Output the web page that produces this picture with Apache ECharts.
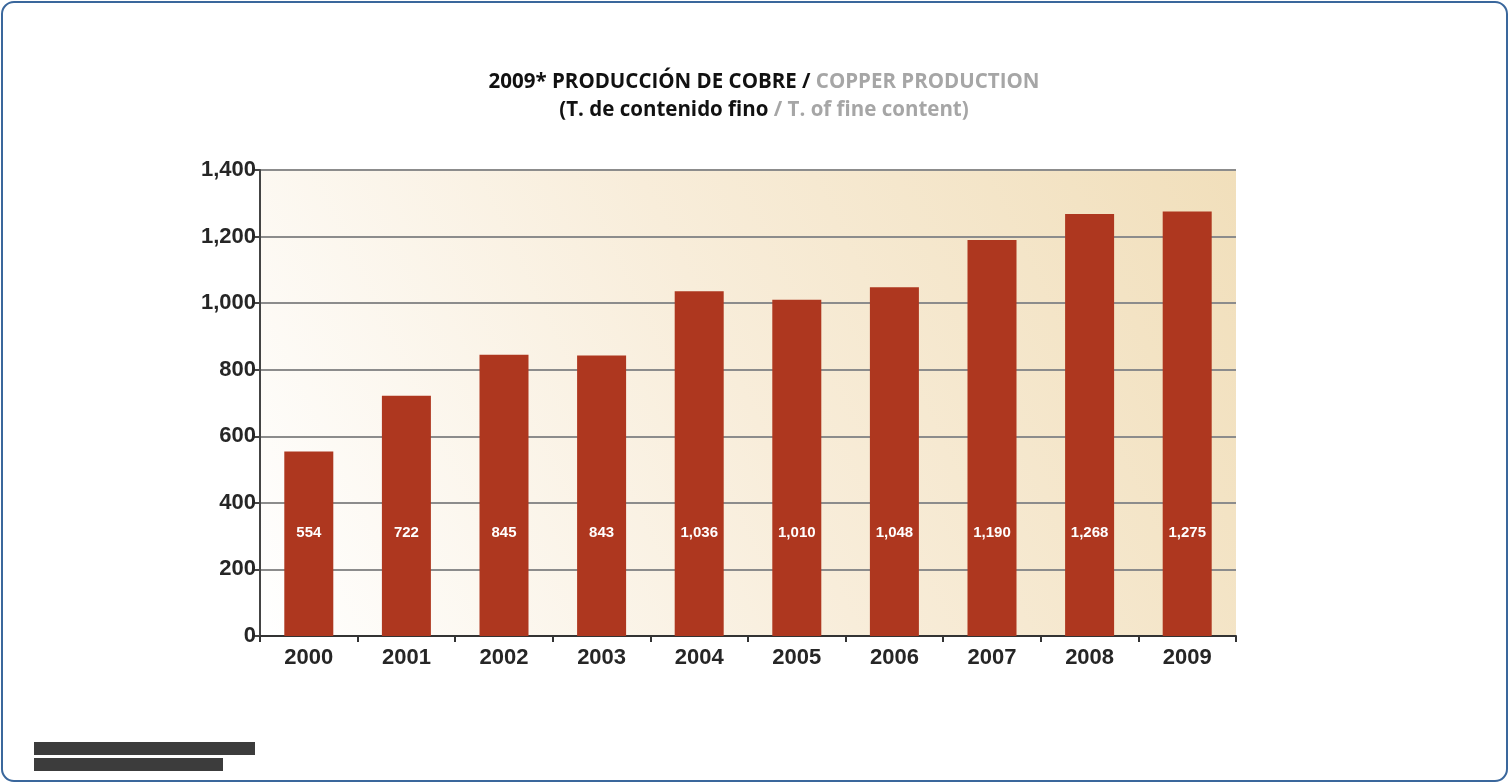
<!DOCTYPE html>
<html>
<head>
<meta charset="utf-8">
<script src="https://cdn.jsdelivr.net/npm/echarts@6/dist/echarts.min.js"></script>
<style>
html, body { margin: 0; padding: 0; background: #fff; }
#main { width: 1510px; height: 783px; }
</style>
</head>
<body>
<div id="main"></div>
<script>
// datos del gráfico
var years = ['2000', '2001', '2002', '2003', '2004', '2005', '2006', '2007', '2008', '2009'];
var produccion = [554, 722, 845, 843, 1036, 1010, 1048, 1190, 1268, 1275];
var yTicks = [0, 200, 400, 600, 800, 1000, 1200, 1400];

function fmt(v) {
	return String(v).replace(/\B(?=(\d{3})+(?!\d))/g, ',');
}

var chart = echarts.init(document.getElementById('main'));
chart.setOption({
	animation: false,
	title: {
		text: '{a|2009* PRODUCCIÓN DE COBRE / }{b|COPPER PRODUCTION}\n{a|(T. de contenido fino }{b|/ T. of fine content)}',
		left: 759,
		top: 63,
		textAlign: 'center',
		textStyle: {
			rich: {
				a: { fontFamily: 'Open Sans', fontWeight: 'bold', fontSize: 20.5, color: '#111', lineHeight: 28 },
				b: { fontFamily: 'Open Sans', fontWeight: 'bold', fontSize: 20.5, color: '#a6a6a6', lineHeight: 28 }
			}
		}
	},
	grid: {
		left: 260, right: 274, top: 170, bottom: 147,
		show: true,
		borderWidth: 0,
		backgroundColor: new echarts.graphic.LinearGradient(0, 1, 1, 0, [
			{ offset: 0, color: '#ffffff' },
			{ offset: 0.5, color: '#f8edda' },
			{ offset: 1, color: '#f1dfbb' }
		])
	},
	xAxis: {
		type: 'category',
		data: years,
		axisLine: { lineStyle: { color: '#333', width: 2 } },
		axisTick: { show: true, length: 6, lineStyle: { color: '#333', width: 2 } },
		axisLabel: {
			fontFamily: 'Liberation Sans', fontWeight: 'bold', fontSize: 22,
			color: '#262626', margin: 11
		}
	},
	yAxis: {
		type: 'value',
		min: 0, max: 1400, interval: 200,
		axisLine: { show: true, lineStyle: { color: '#444', width: 2 } },
		axisTick: { show: true, length: 7, lineStyle: { color: '#444', width: 2 } },
		splitLine: { lineStyle: { color: '#8c8c8c', width: 2 } },
		axisLabel: {
			fontFamily: 'Liberation Sans', fontWeight: 'bold', fontSize: 22,
			color: '#262626', margin: 4,
			formatter: function(v) { return fmt(v); }
		}
	},
	series: [{
		type: 'bar',
		data: produccion,
		barWidth: 49,
		itemStyle: { color: '#ae371f' },
		label: {
			show: true,
			position: 'insideBottom',
			distance: 96,
			fontFamily: 'Liberation Sans', fontWeight: 'bold', fontSize: 15,
			color: '#fff',
			formatter: function(p) { return fmt(p.value); }
		}
	}],
	graphic: [
		{
			type: 'rect',
			shape: { x: 2, y: 2, width: 1505, height: 779, r: 12 },
			style: { fill: 'none', stroke: '#3a679c', lineWidth: 2 },
			z: -1
		},
		{
			type: 'rect',
			shape: { x: 34, y: 742, width: 221, height: 13 },
			style: { fill: '#3c3c3c' }
		},
		{
			type: 'rect',
			shape: { x: 34, y: 758, width: 189, height: 13 },
			style: { fill: '#3c3c3c' }
		}
	]
});
</script>
</body>
</html>
